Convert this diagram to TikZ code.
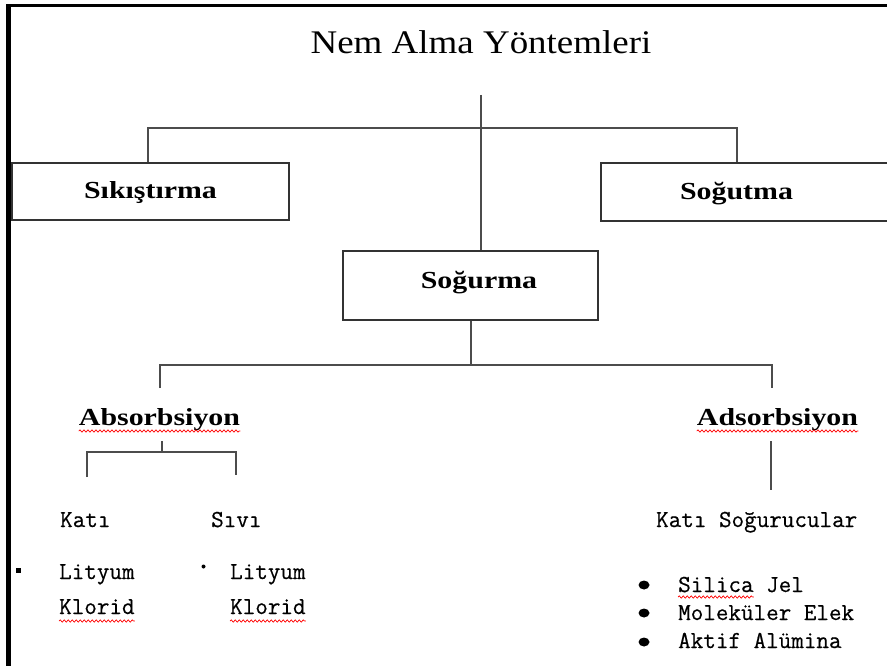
\documentclass[tikz,border=0pt]{standalone}
\usepackage{fontspec}
\usetikzlibrary{decorations.pathmorphing}
\newfontfamily\ttlfont[FakeStretch=1.12]{Liberation Serif}
\newfontfamily\bldfont[FakeStretch=1.22]{Liberation Serif Bold}
\newfontfamily\mnfont[FakeBold=0.5]{Latin Modern Mono}
\tikzset{
  frame/.style={line width=4.5pt, black},
  conn/.style={line width=1.6pt, black!70},
  boxstyle/.style={draw=black!80, line width=1.4pt, fill=white, inner sep=0pt},
  ttl/.style={font=\ttlfont\fontsize{33}{38}\selectfont, inner sep=0pt, anchor=base},
  bld/.style={font=\bldfont\fontsize{24.5}{28}\selectfont, inner sep=0pt, anchor=base},
  mn/.style={font=\mnfont\fontsize{24.4}{28}\selectfont, inner sep=0pt, anchor=base west},
  wave/.style={red, line width=0.7pt, decorate, decoration={snake, amplitude=1.1pt, segment length=4pt}},
  bul/.style={fill=black, draw=none}
}
\begin{document}
\begin{tikzpicture}[x=1pt,y=-1pt]
\useasboundingbox (0,0) rectangle (887,666);
\fill[white] (0,0) rectangle (887,666);
% frame
\draw[line width=3pt] (6.5,6) -- (890,6);
\draw[frame] (8.5,4.5) -- (8.5,670);

% title
\node[ttl] (title) at (481,54) {Nem Alma Yöntemleri};
\coordinate (t0) at (481,95);

% first level boxes
\node[boxstyle, minimum width=277pt, minimum height=57pt] (sik) at (150.5,191.5) {};
\node[bld] (sikT) at (150.5,199) {Sıkıştırma};
\node[boxstyle, minimum width=291pt, minimum height=58pt] (sog) at (746.5,192) {};
\node[bld] (sogT) at (736.5,200) {Soğutma};
\node[boxstyle, minimum width=255pt, minimum height=69pt] (sgr) at (470.5,285.5) {};
\node[bld] (sgrT) at (479,288) {Soğurma};

\coordinate (hl) at (148,128);
\coordinate (hr) at (737,128);
\draw[conn] (t0) -- (t0 |- sgr.north);
\draw[conn] (hl |- sik.north) -- (hl) -- (hr) -- (hr |- sog.north);

% second level
\coordinate (b0) at (471,365);
\coordinate (bl) at (160,365);
\coordinate (br) at (772,365);
\coordinate (bl2) at (160,388);
\coordinate (br2) at (772,388);
\draw[conn] (b0 |- sgr.south) -- (b0);
\draw[conn] (bl2) -- (bl) -- (br) -- (br2);

\node[bld] (abs) at (159.5,425) {Absorbsiyon};
\node[bld] (ads) at (777.5,425) {Adsorbsiyon};
\draw[wave] ([yshift=-6pt]abs.base west) -- ([yshift=-6pt]abs.base east);
\draw[wave] ([yshift=-6pt]ads.base west) -- ([yshift=-6pt]ads.base east);

% absorbsiyon subtree
\coordinate (a0) at (162,441);
\coordinate (a1) at (162,452);
\coordinate (al) at (87,452);
\coordinate (ar) at (236,452);
\coordinate (al2) at (87,477);
\coordinate (ar2) at (236,475);
\draw[conn] (a0) -- (a1);
\draw[conn] (al2) -- (al) -- (ar) -- (ar2);

\node[mn] (kati) at (60,527) {Katı};
\node[mn] (sivi) at (211,527) {Sıvı};

\fill[bul] (16,568) rectangle (21,573);
\node[mn] (lit1) at (59,579) {Lityum};
\node[mn] (klo1) at (59,614) {Klorid};
\draw[wave] ([yshift=-7pt]klo1.base west) -- ([yshift=-7pt]klo1.base east);

\fill[bul] (203.5,566.5) circle (2pt);
\node[mn] (lit2) at (230,579) {Lityum};
\node[mn] (klo2) at (230,614) {Klorid};
\draw[wave] ([yshift=-7pt]klo2.base west) -- ([yshift=-7pt]klo2.base east);

% adsorbsiyon subtree
\coordinate (d0) at (771,441);
\coordinate (d1) at (771,490);
\draw[conn] (d0) -- (d1);
\node[mn] (katis) at (656,527) {Katı Soğurucular};

\fill[bul] (644,585) ellipse (5.5pt and 4.5pt);
\fill[bul] (644,613) ellipse (5.5pt and 4.5pt);
\fill[bul] (644,642) ellipse (5.5pt and 4.5pt);
\node[mn] (sil) at (678,592) {Silica Jel};
\node[mn] (silw) at (678,592) {\phantom{Silica}};
\draw[wave] ([yshift=-5pt]silw.base west) -- ([yshift=-5pt]silw.base east);
\node[mn] (mol) at (678,620) {Moleküler Elek};
\node[mn] (akt) at (678,648) {Aktif Alümina};
\end{tikzpicture}
\end{document}
